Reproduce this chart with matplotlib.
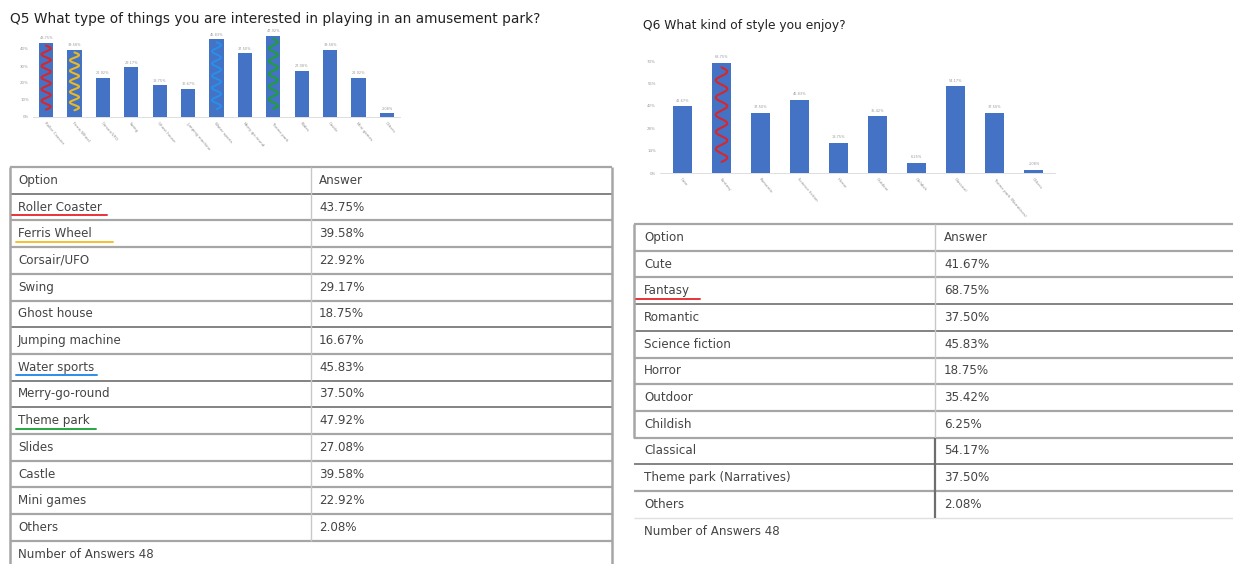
import numpy as np
import matplotlib
matplotlib.use("Agg")
import matplotlib.pyplot as plt

# ---------------- data ----------------
q5_title = "Q5 What type of things you are interested in playing in an amusement park?"
q5_options = ["Roller Coaster", "Ferris Wheel", "Corsair/UFO", "Swing", "Ghost house",
              "Jumping machine", "Water sports", "Merry-go-round", "Theme park", "Slides",
              "Castle", "Mini games", "Others"]
q5_values = [43.75, 39.58, 22.92, 29.17, 18.75, 16.67, 45.83, 37.50, 47.92, 27.08,
             39.58, 22.92, 2.08]
q5_ticks = [0, 10, 20, 30, 40]
q5_highlight = {0: "#d9262b", 1: "#e9b925", 6: "#2b8ee6", 8: "#1f9e3a"}

q6_title = "Q6 What kind of style you enjoy?"
q6_options = ["Cute", "Fantasy", "Romantic", "Science fiction", "Horror", "Outdoor",
              "Childish", "Classical", "Theme park (Narratives)", "Others"]
q6_values = [41.67, 68.75, 37.50, 45.83, 18.75, 35.42, 6.25, 54.17, 37.50, 2.08]
q6_ticks = [0, 14, 28, 42, 56, 70]
q6_highlight = {1: "#d9262b"}

n_answers = 48

# ---------------- figure ----------------
W, H = 1233, 564
fig = plt.figure(figsize=(W / 100, H / 100), dpi=100)
fig.patch.set_facecolor("white")

BAR = "#4472C4"
GRAY_TXT = "#8c8c8c"


def px_axes(left, top, right, bottom):
    return fig.add_axes([left / W, 1 - bottom / H, (right - left) / W, (bottom - top) / H])


def bar_chart(ax, options, values, ticks, ylim, xlim, width, highlight, amp):
    x = np.arange(len(values))
    ax.bar(x, values, width=width, color=BAR, zorder=2)
    ax.set_xlim(*xlim)
    ax.set_ylim(0, ylim)
    ax.set_yticks(ticks)
    ax.set_yticklabels([f"{t}%" for t in ticks], fontsize=2.8, color="#9a9a9a")
    ax.set_xticks(x)
    ax.set_xticklabels(options, rotation=-50, ha="left", va="top", fontsize=2.9,
                       color=GRAY_TXT, rotation_mode="anchor")
    ax.tick_params(length=0, pad=3)
    for s in ["top", "right", "left"]:
        ax.spines[s].set_visible(False)
    ax.spines["bottom"].set_color("#d9d9d9")
    ax.spines["bottom"].set_linewidth(0.6)
    ax.patch.set_alpha(0)
    for xi, v in zip(x, values):
        ax.text(xi, v + ylim * 0.03, f"{v:.2f}%", ha="center", va="bottom",
                fontsize=2.5, color="#9a9a9a")
    # hand-drawn wavy highlight strokes
    for i, col in highlight.items():
        v = values[i]
        t = np.linspace(0, 1, 300)
        yy = v * 0.96 - t * (v * 0.86)
        xx = i + width * amp * np.sin(t * 2 * np.pi * 5.5)
        ax.plot(xx, yy, color=col, lw=1.5, zorder=3, solid_capstyle="round")


# Q5 chart
fig.text(10 / W, 1 - 19 / H, q5_title, fontsize=9.9, va="center", ha="left",
         color="#222222")
ax1 = px_axes(33, 32, 400, 117)
bar_chart(ax1, q5_options, q5_values, q5_ticks, 85 / 1.7, (-0.46, 12.46), 0.5,
          q5_highlight, 0.32)

# Q6 chart
fig.text(643 / W, 1 - 25 / H, q6_title, fontsize=8.8, va="center", ha="left",
         color="#222222")
ax2 = px_axes(660, 55, 1055, 173)
bar_chart(ax2, q6_options, q6_values, q6_ticks, 118 / 1.6, (-0.576, 9.54), 0.49,
          q6_highlight, 0.3)

# ---------------- tables (overlay in pixel space) ----------------
ov = fig.add_axes([0, 0, 1, 1])
ov.set_xlim(0, W)
ov.set_ylim(H, 0)
ov.axis("off")
ov.patch.set_alpha(0)

LC = "#a6a6a6"
DC = "#6e6e6e"
TF = 8.6
TC = "#444444"
RH = 26.7


def hline(x0, x1, y, c=LC, lw=1.6):
    ov.plot([x0, x1], [y, y], color=c, lw=lw, solid_capstyle="butt")


def vline(x, y0, y1, c=LC, lw=1.6):
    ov.plot([x, x], [y0, y1], color=c, lw=lw, solid_capstyle="butt")


# Table 1
L1, R1, D1, T1 = 10, 612, 311, 167
rows1 = [("Option", "Answer")] + [(o, f"{v:.2f}%") for o, v in zip(q5_options, q5_values)]
for k, (a, b) in enumerate(rows1):
    yc = T1 + RH * (k + 0.5)
    ov.text(18, yc, a, fontsize=TF, color=TC, va="center", ha="left")
    ov.text(319, yc, b, fontsize=TF, color=TC, va="center", ha="left")
yb1 = T1 + RH * len(rows1)
ov.text(18, yb1 + RH * 0.5, f"Number of Answers {n_answers}", fontsize=TF, color=TC,
        va="center", ha="left")
for k in range(len(rows1) + 1):
    y = T1 + RH * k
    dark = k in (1, 6, 8, 9)
    hline(L1, R1, y, DC if dark else LC, 1.2 if dark else 1.6)
vline(L1, T1, H, LC, 1.8)
vline(R1, T1, H, LC, 1.8)
vline(D1, T1, yb1, "#c8c8c8", 1.0)

# underline highlights in table 1
u1 = {0: ("#e8323a", 12, 107), 1: ("#f2c12e", 16, 113), 6: ("#2b8ee6", 16, 97),
      8: ("#22a83f", 16, 96)}
for i, (col, xa, xb) in u1.items():
    y = T1 + RH * (i + 1) + RH * 0.5 + 8
    ov.plot([xa, xb], [y, y], color=col, lw=1.4, solid_capstyle="round")

# Table 2
L2, D2, T2 = 634, 935, 224
rows2 = [("Option", "Answer")] + [(o, f"{v:.2f}%") for o, v in zip(q6_options, q6_values)]
for k, (a, b) in enumerate(rows2):
    yc = T2 + RH * (k + 0.5)
    ov.text(644, yc, a, fontsize=TF, color=TC, va="center", ha="left")
    ov.text(944, yc, b, fontsize=TF, color=TC, va="center", ha="left")
yb2 = T2 + RH * len(rows2)
ov.text(644, yb2 + RH * 0.5, f"Number of Answers {n_answers}", fontsize=TF, color=TC,
        va="center", ha="left")
for k in range(len(rows2) + 1):
    y = T2 + RH * k
    dark = k in (3, 4, 9)
    if k == len(rows2):
        hline(L2, W, y, "#e0e0e0", 1.0)
    else:
        hline(L2, W, y, DC if dark else LC, 1.2 if dark else 1.6)
vline(L2, T2, T2 + RH * 8, LC, 1.8)
vline(D2, T2, T2 + RH * 8, "#c8c8c8", 1.0)
vline(D2, T2 + RH * 8, yb2, "#6e6e6e", 1.6)

# underline in table 2
y = T2 + RH * 2 + RH * 0.5 + 8
ov.plot([636, 700], [y, y], color="#e8323a", lw=1.4, solid_capstyle="round")

fig.savefig("out.png", dpi=100, facecolor="white")
